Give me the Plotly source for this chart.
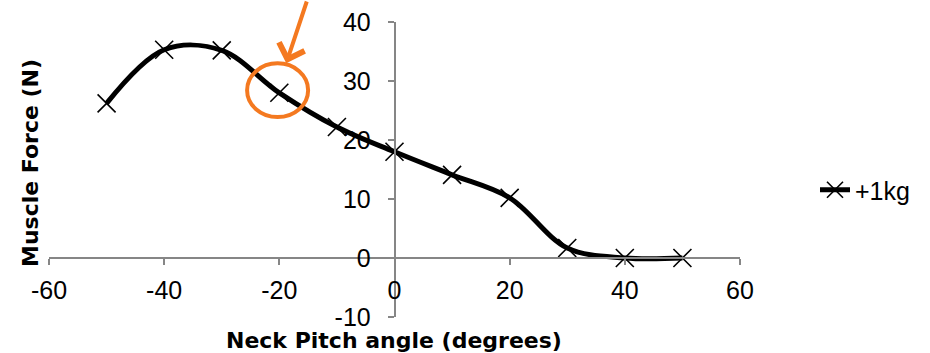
import plotly.graph_objects as go

angles = [-50, -40, -30, -20, -10, 0, 10, 20, 30, 40, 50]
force_1kg = [26.2, 35.3, 35.2, 28.0, 22.2, 18.0, 14.1, 10.2, 1.7, 0.0, 0.0]
x_ticks = [-60, -40, -20, 0, 20, 40, 60]
x_tick_text = ["-60", "-40", "-20", "0", "20", "40", "60"]
y_ticks = [-10, 0, 10, 20, 30, 40]
y_tick_text = ["-10", "0", "10", "20", "30", "40"]

W, H = 930, 353
xd = [49 / W, 740 / W]
yd = [1 - 317 / H, 1 - 22 / H]
x_zero_pos = xd[0] + (0 - (-60)) / 120 * (xd[1] - xd[0])
y_zero_pos = yd[0] + (0 - (-10)) / 50 * (yd[1] - yd[0])

fig = go.Figure()
fig.add_trace(go.Scatter(
    x=angles, y=force_1kg, mode="lines+markers", name="+1kg",
    line=dict(color="black", width=5, shape="spline", smoothing=1.0),
    marker=dict(symbol="x-thin", size=18, line=dict(color="black", width=1.6), color="black"),
    cliponaxis=False,
))

axis_font = dict(family="Liberation Sans, Arial, sans-serif", size=25, color="black")
fig.update_layout(
    width=W, height=H, margin=dict(l=0, r=0, t=0, b=0),
    paper_bgcolor="white", plot_bgcolor="white",
    font=axis_font,
    xaxis=dict(domain=xd, range=[-60, 60], tickvals=x_ticks, ticktext=x_tick_text,
               anchor="free", position=y_zero_pos,
               showgrid=False, zeroline=False, showline=True, linecolor="#868686", linewidth=1.5,
               ticks="outside", ticklen=6, tickcolor="#868686", tickwidth=1.5,
               tickfont=axis_font, automargin=False, ticklabelstandoff=4),
    yaxis=dict(domain=yd, range=[-10, 40], tickvals=y_ticks, ticktext=y_tick_text,
               anchor="free", position=x_zero_pos,
               showgrid=False, zeroline=False, showline=True, linecolor="#868686", linewidth=1.5,
               ticks="outside", ticklen=6, tickcolor="#868686", tickwidth=1.5,
               tickfont=axis_font, automargin=False, ticklabelstandoff=12),
    showlegend=True,
    legend=dict(x=815 / W, y=1 - 190 / H, xanchor="left", yanchor="middle",
                font=axis_font, bgcolor="rgba(0,0,0,0)"),
)

title_font = dict(family="DejaVu Sans, sans-serif", size=22, color="black")
fig.add_annotation(text="<b>Neck Pitch angle (degrees)</b>", xref="paper", yref="paper",
                   x=394 / W, y=1 - 340 / H, showarrow=False, font=title_font,
                   xanchor="center", yanchor="middle")
fig.add_annotation(text="<b>Muscle Force (N)</b>", xref="paper", yref="paper",
                   x=30 / W, y=1 - 163 / H, showarrow=False, font=title_font, textangle=-90,
                   xanchor="center", yanchor="middle")

orange = "#F47920"
fig.add_shape(type="circle", xref="x", yref="y", x0=-25.6, x1=-15.0, y0=23.9, y1=33.0,
              line=dict(color=orange, width=4))
fig.add_annotation(x=-18.8, y=33.0, xref="x", yref="y", text="", showarrow=True,
                   ax=21, ay=-66, arrowcolor=orange, arrowwidth=4, arrowhead=4, arrowsize=1.3)

fig.write_html("out.html")
